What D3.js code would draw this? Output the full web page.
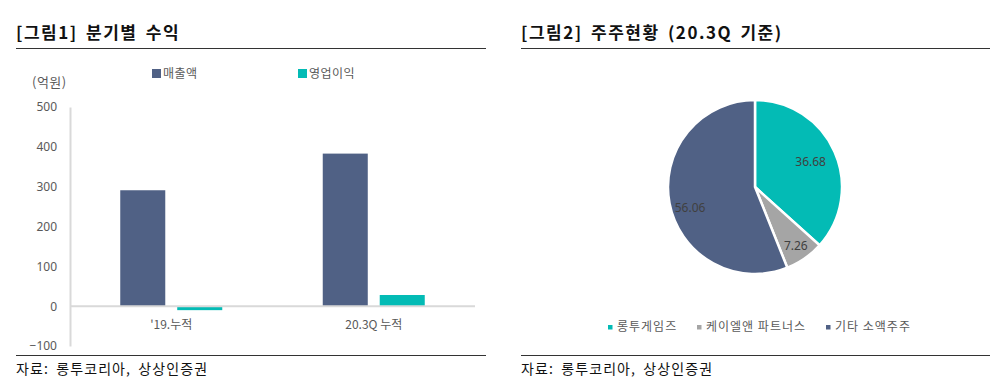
<!DOCTYPE html>
<html>
<head>
<meta charset="utf-8">
<script src="https://cdn.jsdelivr.net/npm/d3@7"></script>
<style>
  body { margin: 0; background: #fff; }
  svg { font-family: "Noto Sans CJK KR", "Noto Sans", sans-serif; }
</style>
</head>
<body>
<svg id="chart" width="1007" height="392"></svg>
<script>
// left: quarterly earnings
var categories = ["'19.누적", "20.3Q 누적"];
var seriesNames = ["매출액", "영업이익"];
var revenue = [291, 383];
var opProfit = [-10, 28];
var yTicks = [-100, 0, 100, 200, 300, 400, 500];

// right: shareholders
var holders = ["롱투게임즈", "케이엘앤 파트너스", "기타 소액주주"];
var shares = [36.68, 7.26, 56.06];

var barColors = ["#506185", "#03bbb5"];
var pieColors = ["#03bbb5", "#a5a5a5", "#506185"];

const svg = d3.select('#chart');

// panel frames: titles, rules, sources
function frame(x0, x1, title) {
    svg.append('text').attr('x', x0).attr('y', 39)
        .attr('font-size', 17).attr('font-weight', 'bold').attr('fill', '#111')
        .attr('letter-spacing', 1.5).attr('word-spacing', 3)
        .text(title);
    svg.append('line').attr('x1', x0).attr('x2', x1).attr('y1', 48.5).attr('y2', 48.5)
        .attr('stroke', '#333').attr('stroke-width', 1);
    svg.append('line').attr('x1', x0).attr('x2', x1).attr('y1', 355.5).attr('y2', 355.5)
        .attr('stroke', '#333').attr('stroke-width', 1);
    svg.append('text').attr('x', x0).attr('y', 374)
        .attr('font-size', 14).attr('fill', '#111')
        .attr('letter-spacing', 1.1).attr('word-spacing', 3)
        .text('자료: 롱투코리아, 상상인증권');
}
frame(16, 486, '[그림1] 분기별 수익');
frame(521, 990, '[그림2] 주주현황 (20.3Q 기준)');

// ---- bar chart ----
const x0 = d3.scaleBand().domain(categories).range([70, 475]);
const x1 = d3.scaleBand().domain(seriesNames).range([0, 102]).paddingInner(0.21);
const y = d3.scaleLinear().domain([-100, 500]).range([346, 107]);

const yAxis = svg.append('g').attr('transform', 'translate(70,0)')
    .call(d3.axisLeft(y).tickValues(yTicks).tickSize(0).tickPadding(13));
yAxis.select('.domain').attr('stroke', '#d9d9d9').attr('stroke-width', 2);
yAxis.selectAll('text').attr('font-size', 12).attr('fill', '#595959')
    .attr('font-family', '"Noto Sans", sans-serif');

svg.append('text').attr('x', 32).attr('y', 87)
    .attr('font-size', 13).attr('fill', '#595959').attr('letter-spacing', 0.5).text('(억원)');

const groups = svg.selectAll('g.grp')
    .data(categories.map((c, i) => ({ cat: c, vals: [revenue[i], opProfit[i]] })))
    .enter().append('g')
    .attr('transform', d => `translate(${x0(d.cat) + x0.bandwidth() / 2 - 51},0)`);

groups.selectAll('rect')
    .data(d => d.vals.map((v, j) => ({ name: seriesNames[j], v: v, j: j })))
    .enter().append('rect')
    .attr('x', d => x1(d.name))
    .attr('width', x1.bandwidth())
    .attr('y', d => y(Math.max(0, d.v)))
    .attr('height', d => Math.abs(y(d.v) - y(0)))
    .attr('fill', d => barColors[d.j]);

svg.append('line').attr('x1', 70).attr('x2', 475).attr('y1', y(0)).attr('y2', y(0))
    .attr('stroke', '#d9d9d9').attr('stroke-width', 2);

const xAxis = svg.append('g').attr('transform', `translate(0,${y(0)})`)
    .call(d3.axisBottom(x0).tickSize(0).tickPadding(14));
xAxis.select('.domain').remove();
xAxis.selectAll('text').attr('font-size', 12).attr('fill', '#595959')
    .attr('font-family', '"Noto Sans CJK KR", sans-serif');

// legend
const legX = [152, 298];
seriesNames.forEach((n, i) => {
    svg.append('rect').attr('x', legX[i]).attr('y', 69).attr('width', 9).attr('height', 9)
        .attr('fill', barColors[i]);
    svg.append('text').attr('x', legX[i] + 11).attr('y', 78)
        .attr('font-size', 12).attr('fill', '#595959').attr('letter-spacing', 0.5).text(n);
});

// ---- pie chart ----
const cx = 755, cy = 187, r = 87;
const pie = d3.pie().sort(null).value(d => d)(shares);
const arc = d3.arc().innerRadius(0).outerRadius(r);
const labelR = [0.70, 0.82, 0.76];

const pg = svg.append('g').attr('transform', `translate(${cx},${cy})`);
pg.selectAll('path').data(pie).enter().append('path')
    .attr('d', arc)
    .attr('fill', (d, i) => pieColors[i])
    .attr('stroke', '#fff').attr('stroke-width', 2.5);

pg.selectAll('text.lbl').data(pie).enter().append('text')
    .attr('transform', (d, i) => {
        const c = d3.arc().innerRadius(r * labelR[i]).outerRadius(r * labelR[i]).centroid(d);
        // the big slice label sits a little lower in the source
        return `translate(${c[0]},${c[1] + (i === 2 ? 8 : 0)})`;
    })
    .attr('dy', '0.35em').attr('text-anchor', 'middle')
    .attr('font-size', 12).attr('fill', '#404040')
    .attr('font-family', '"Noto Sans", sans-serif')
    .text(d => d.data.toFixed(2));

const pieLegX = [608, 697, 826];
holders.forEach((h, i) => {
    svg.append('rect').attr('x', pieLegX[i]).attr('y', 325).attr('width', 4.5).attr('height', 4.5)
        .attr('fill', pieColors[i]);
    svg.append('text').attr('x', pieLegX[i] + 9).attr('y', 331)
        .attr('font-size', 12).attr('fill', '#595959').attr('letter-spacing', 1).text(h);
});
</script>
</body>
</html>
